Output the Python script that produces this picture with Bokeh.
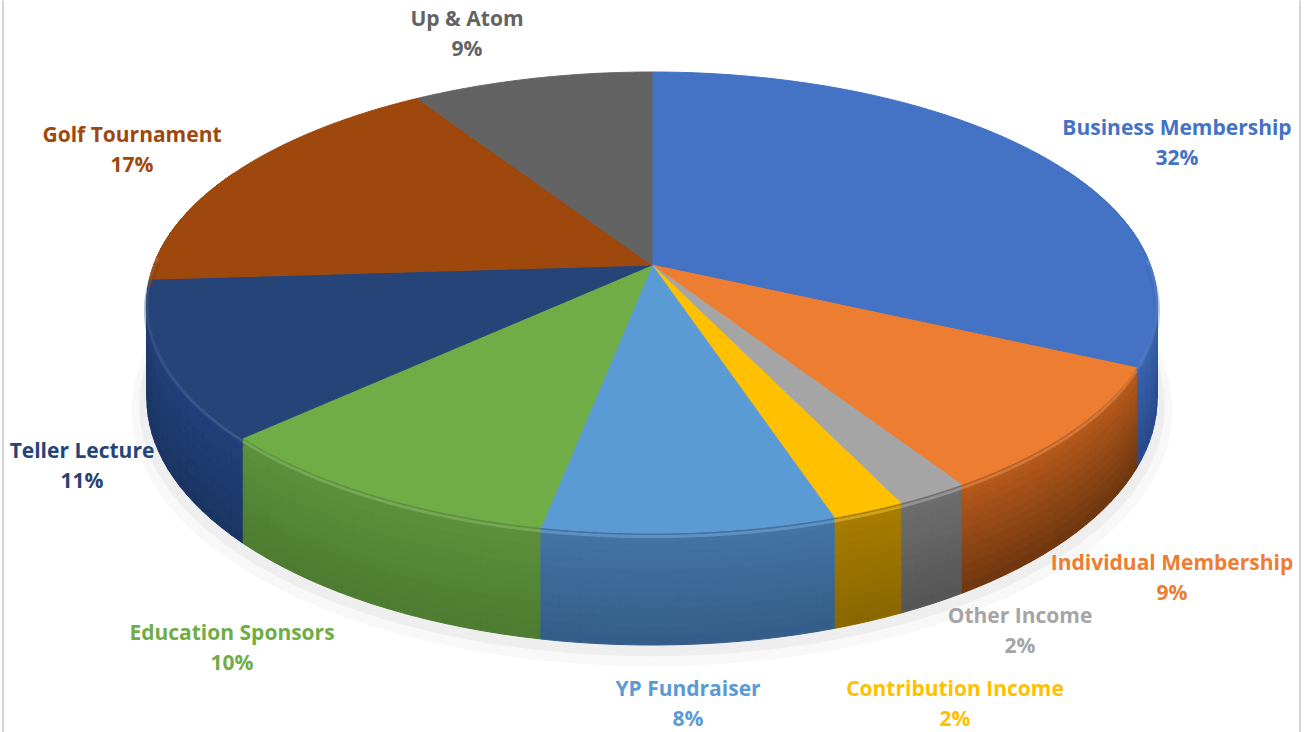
import numpy as np
from bokeh.plotting import figure
from bokeh.models import Range1d
from bokeh.core.properties import value
from bokeh.embed import file_html
from bokeh.resources import INLINE

# ---------------- data ----------------
categories = ["Business Membership", "Individual Membership", "Other Income",
              "Contribution Income", "YP Fundraiser", "Education Sponsors",
              "Teller Lecture", "Golf Tournament", "Up & Atom"]
values = [32, 9, 2, 2, 8, 10, 11, 17, 9]
pct_labels = ["32%", "9%", "2%", "2%", "8%", "10%", "11%", "17%", "9%"]
top_colors = ["#4472C4", "#ED7D31", "#A5A5A5", "#FFC000", "#5B9BD5",
              "#70AD47", "#264478", "#9E480E", "#636363"]
wall_top = ["#3A65B0", "#B85B1C", "#6E6E6E", "#A87D00", "#4475A5",
            "#5E913D", "#22407A", "#7A3A0C", "#505050"]
wall_bot = ["#28498A", "#6E3610", "#555555", "#8A6600", "#335D88",
            "#4D7B30", "#1B3463", "#5E2C08", "#404040"]
label_colors = ["#4472C4", "#ED7D31", "#A5A5A5", "#FFC000", "#5B9BD5",
                "#70AD47", "#264478", "#9E480E", "#636363"]
# label anchor positions (page pixels)
label_x = [1177, 1172, 1020, 955, 688, 232, 82, 132, 467]
label_y = [127, 562, 615, 688, 688, 632, 450, 134, 18]

# ---------------- geometry (page pixel space) ----------------
X0, Y0 = 652.0, 265.0
K = 0.1627
A = 498.3
B = 224.4
H = 93.8


def proj(a, h=0.0, r=1.0):
    u = r * np.sin(a)
    v = -r * np.cos(a)
    d = 1 - K * v
    return X0 + A * u / d, Y0 + B * v / d + h / d


def hex2rgb(c):
    c = c.lstrip("#")
    return np.array([int(c[i:i + 2], 16) for i in (0, 2, 4)], dtype=float)


def rgb2hex(c):
    c = np.clip(np.round(c), 0, 255).astype(int)
    return "#%02x%02x%02x" % tuple(c)


total = float(sum(values))
fracs = np.array(values) / total
ends = np.cumsum(fracs) * 2 * np.pi
starts = np.concatenate([[0.0], ends[:-1]])

W, HT = 1305, 732
p = figure(width=W, height=HT, output_backend="svg", toolbar_location=None,
           x_range=Range1d(0.5, 0.5 + W), y_range=Range1d(0.5 + HT, 0.5), min_border=0)
p.axis.visible = False
p.grid.visible = False
p.outline_line_color = None
p.background_fill_color = "white"
p.border_fill_color = "white"

# thin chart frame lines
p.segment(x0=[3, 1300], y0=[0, 0], x1=[3, 1300], y1=[732, 732],
          line_color="#d4d4d4", line_width=2)

# soft shadow around base
for r, hh, alpha in [(1.03, H + 9, 0.10), (1.015, H + 5, 0.16)]:
    aa = np.linspace(0, 2 * np.pi, 361)
    sx, sy = proj(aa, hh, r)
    p.patch(list(sx), list(sy), fill_color="#bdbdbd", fill_alpha=alpha, line_color=None)

# walls, split into strips (angle) x bands (height)
strips = []
nb = 12
for i in range(len(values)):
    n = max(2, int(np.ceil((ends[i] - starts[i]) / np.radians(2.0))))
    aa = np.linspace(starts[i], ends[i], n + 1)
    ct, cb = hex2rgb(wall_top[i]), hex2rgb(wall_bot[i])
    for j in range(n):
        a1, a2 = aa[j], aa[j + 1]
        depth = -np.cos(0.5 * (a1 + a2))
        if depth < -0.45:
            continue  # hidden behind the top face
        for b in range(nb):
            h1, h2 = H * b / nb, H * (b + 1) / nb
            x1, y1 = proj(a1, h1)
            x2, y2 = proj(a2, h1)
            x3, y3 = proj(a2, h2)
            x4, y4 = proj(a1, h2)
            t = (b + 0.5) / nb
            col = rgb2hex(ct * (1 - t) + cb * t)
            strips.append((depth, [x1, x2, x3, x4], [y1, y2, y3, y4], col))
strips.sort(key=lambda s: s[0])
p.patches([s[1] for s in strips], [s[2] for s in strips],
          fill_color=[s[3] for s in strips], line_color=[s[3] for s in strips],
          line_width=1)

# top faces
xs, ys = [], []
for i in range(len(values)):
    aa = np.linspace(starts[i], ends[i], 120)
    ax, ay = proj(aa)
    xs.append([X0] + list(ax))
    ys.append([Y0] + list(ay))
p.patches(xs, ys, fill_color=top_colors, line_color=top_colors, line_width=1)

# bevel highlight along the front rim
for i in range(len(values)):
    aa = np.linspace(starts[i], ends[i], 120)
    vis = -np.cos(aa) > -0.05
    if vis.sum() < 2:
        continue
    aa = aa[vis]
    lc = rgb2hex(hex2rgb(top_colors[i]) * 0.75 + 255 * 0.25)
    bx, by = proj(aa, 3.0)
    p.line(list(bx), list(by), line_color=lc, line_width=3, line_alpha=0.45)
    bx, by = proj(aa, 8.0)
    p.line(list(bx), list(by), line_color=wall_top[i], line_width=6, line_alpha=0.3)

# labels
p.text(x=label_x, y=label_y, text=categories, text_color=label_colors,
       text_font=value("Open Sans"), text_font_style="bold", text_font_size="21px",
       text_align="center", text_baseline="middle")
p.text(x=label_x, y=[v + 30 for v in label_y], text=pct_labels, text_color=label_colors,
       text_font=value("Open Sans"), text_font_style="bold", text_font_size="21px",
       text_align="center", text_baseline="middle")

open("out.html", "w").write(file_html(p, INLINE))
